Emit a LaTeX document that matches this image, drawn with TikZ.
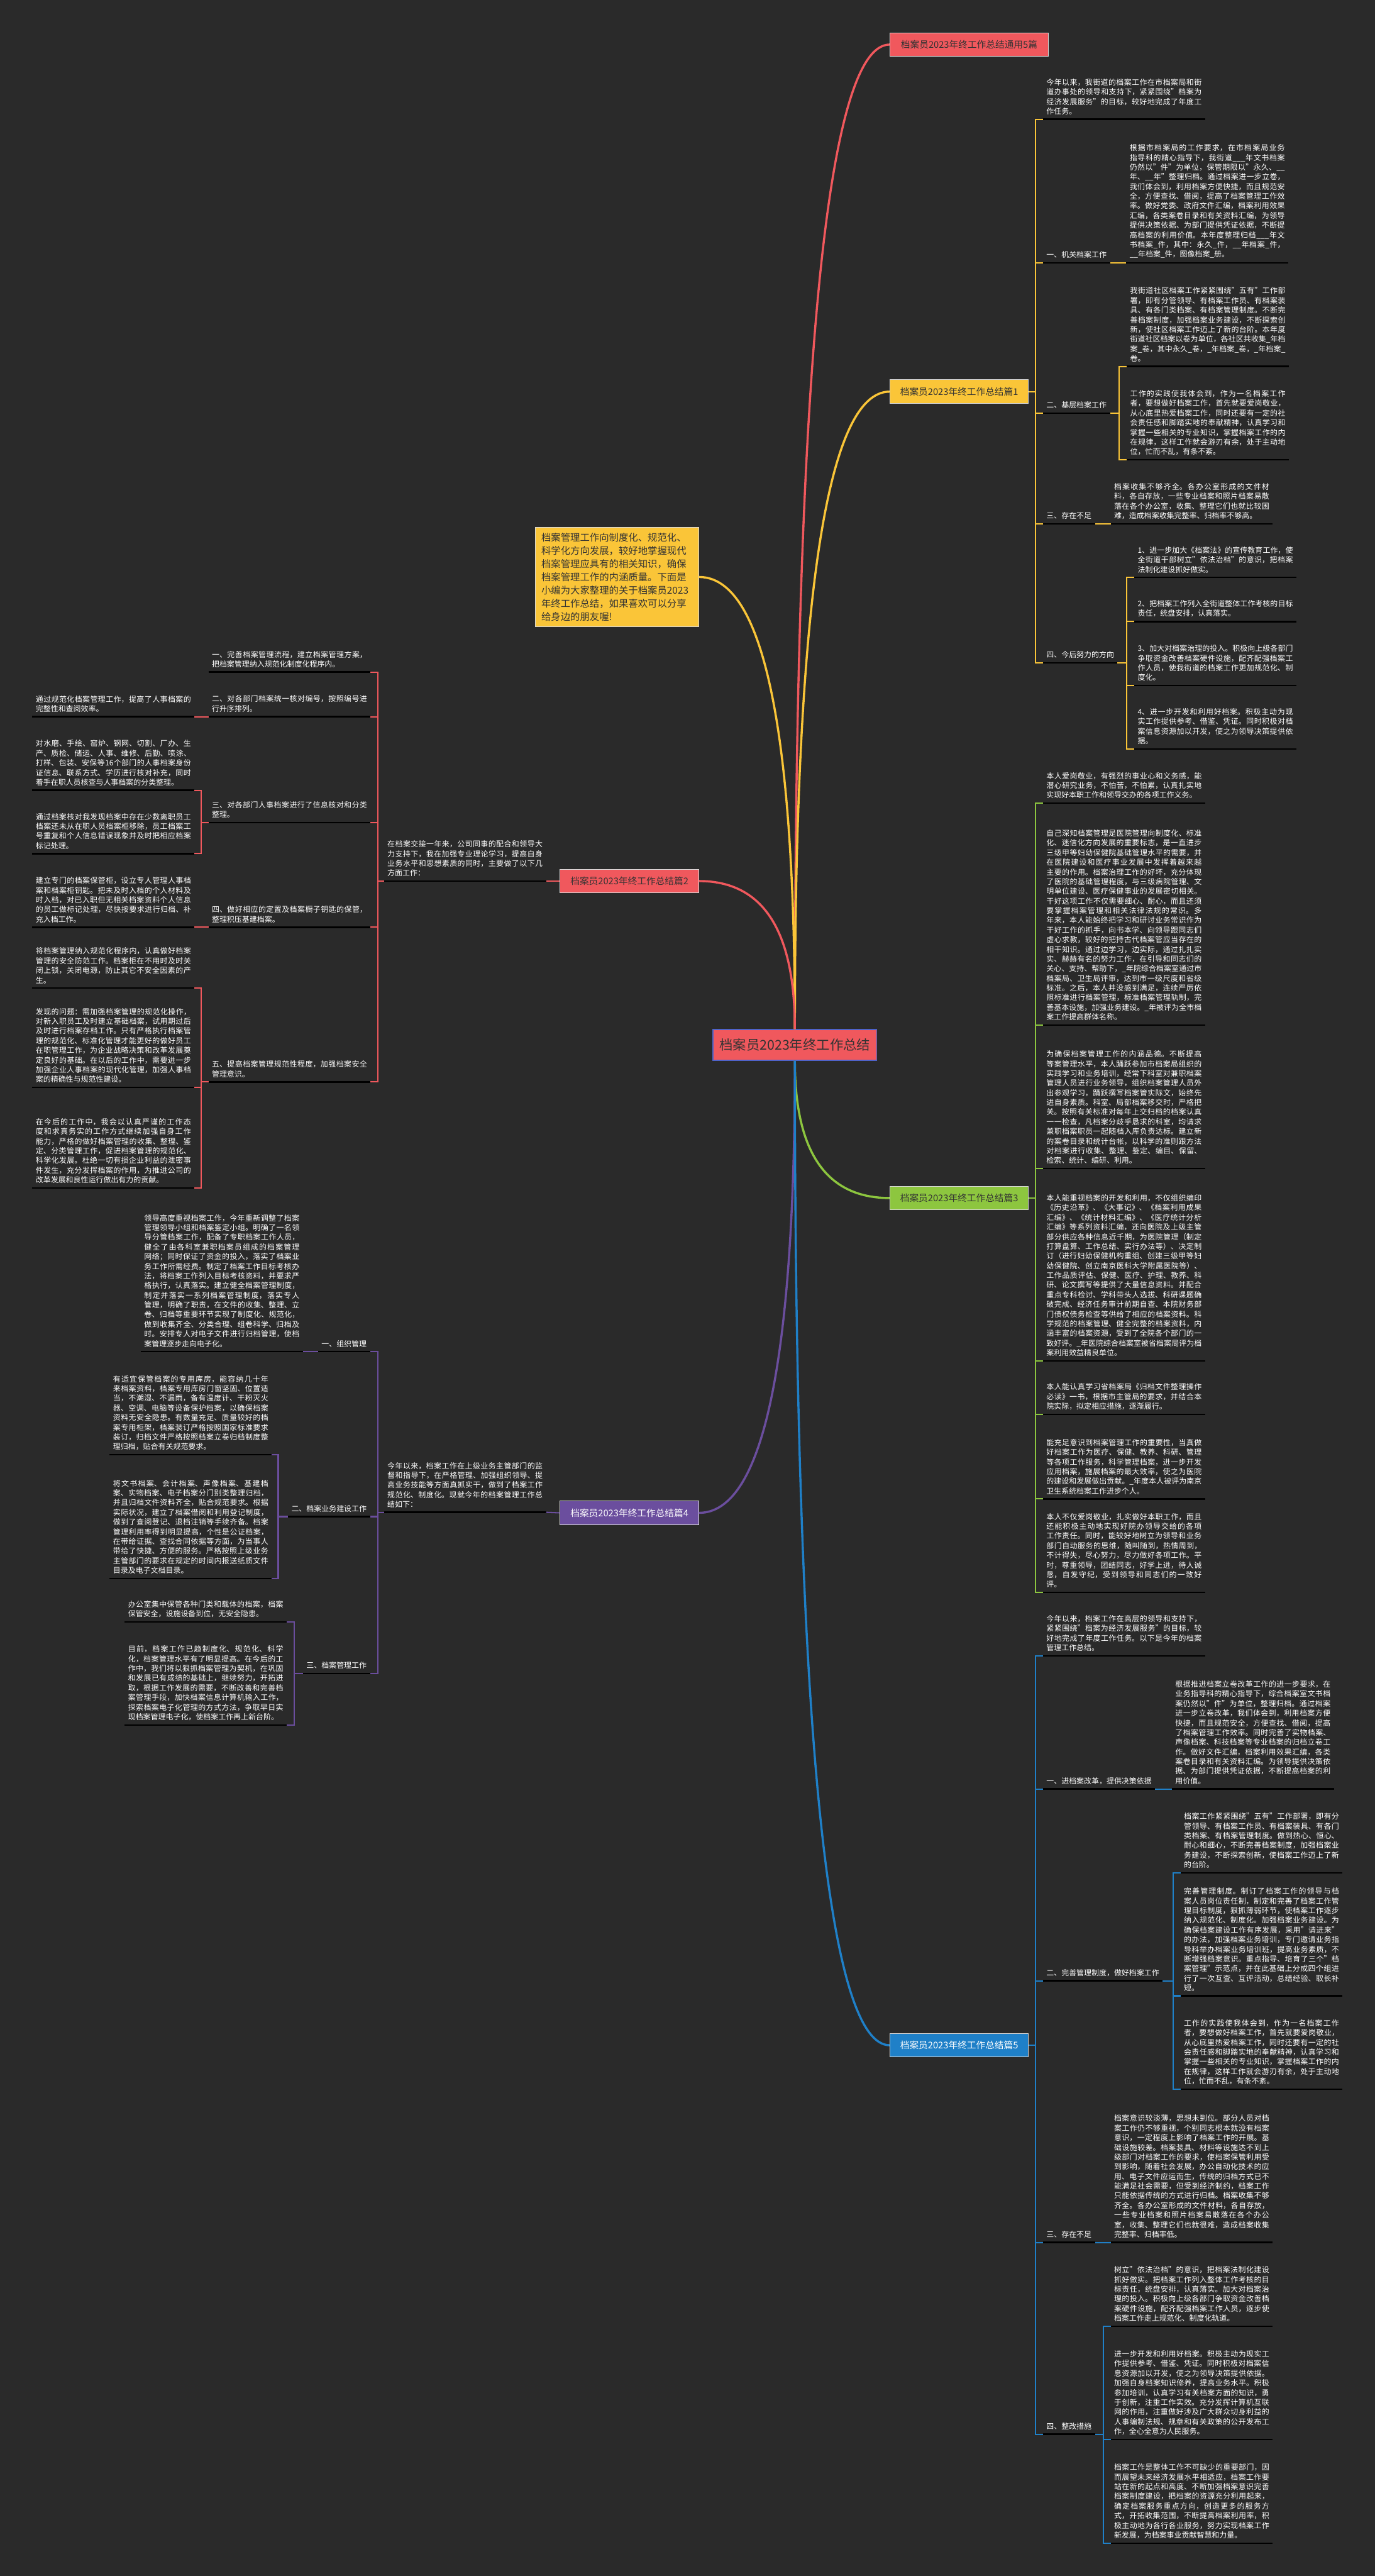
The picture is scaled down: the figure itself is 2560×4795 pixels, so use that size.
\documentclass[tikz,border=0pt]{standalone}
\usepackage{fontspec}
\setmainfont{Noto Sans CJK SC}
\XeTeXlinebreaklocale "zh"
\XeTeXlinebreakskip=0pt plus 1pt
\usetikzlibrary{calc}
\definecolor{bgc}{HTML}{2A2A2A}
\definecolor{cred}{HTML}{F0585D}
\definecolor{cyel}{HTML}{FAC538}
\definecolor{cgrn}{HTML}{8DC63F}
\definecolor{cpur}{HTML}{6B4E9E}
\definecolor{cblu}{HTML}{1F80C8}
\definecolor{ink}{HTML}{333333}
\definecolor{rim}{HTML}{D9D9D9}
\definecolor{cring}{HTML}{4F63C9}
\tikzset{
  leaf/.style={text=white, font=\fontsize{7pt}{9pt}\selectfont, text width=144.5pt, align=justify, inner xsep=3pt, inner ysep=4pt},
  head/.style={text=white, font=\fontsize{7pt}{9pt}\selectfont, inner xsep=3pt, inner ysep=4pt},
  title/.style={draw=rim, line width=0.6pt, text=ink, font=\fontsize{8.6pt}{10pt}\selectfont, minimum width=129pt, minimum height=22pt, inner sep=2pt},
  uline/.style={draw=black, line width=1.4pt},
  link/.style={line width=1.2pt},
  limb/.style={line width=2pt, to path={.. controls ($(\tikztostart)!.667!(\tikztostart |- \tikztotarget)$) and ($(\tikztotarget)!.667!(\tikztostart |- \tikztotarget)$) .. (\tikztotarget)}}
}
\begin{document}
\begin{tikzpicture}[x=0.5pt, y=-0.5pt]
\fill[bgc] (0,0) rectangle (2560,4795);

% main nodes
\node[fill=cred, draw=cring, line width=1pt, text=ink, font=\fontsize{12.5pt}{14pt}\selectfont, minimum width=152.5pt, minimum height=28.5pt] (c) at (1480,1945) {档案员2023年终工作总结};
\node[fill=cyel, draw=rim, line width=0.6pt, text=ink, font=\fontsize{9pt}{12.3pt}\selectfont, text width=141pt, align=left, inner xsep=5.5pt, inner ysep=5pt] (s) at (1149,1074) {档案管理工作向制度化、规范化、\\科学化方向发展，较好地掌握现代\\档案管理应具有的相关知识，确保\\档案管理工作的内涵质量。下面是\\小编为大家整理的关于档案员2023\\年终工作总结，如果喜欢可以分享\\给身边的朋友喔!};
\node[title, fill=cred, minimum width=147.5pt] (t0) at (1804.5,83) {档案员2023年终工作总结通用5篇};
\node[title, fill=cyel] (b1) at (1786,729) {档案员2023年终工作总结篇1};
\node[title, fill=cred] (b2) at (1172,1640) {档案员2023年终工作总结篇2};
\node[title, fill=cgrn] (b3) at (1786,2230) {档案员2023年终工作总结篇3};
\node[title, fill=cpur, text=white] (b4) at (1172,2816) {档案员2023年终工作总结篇4};
\node[title, fill=cblu, text=white] (b5) at (1786,3807) {档案员2023年终工作总结篇5};

\draw[limb, cred] (c.north) to (t0.west);
\draw[limb, cyel] (c.north) to (b1.west);
\draw[limb, cyel] (c.north) to (s.east);
\draw[limb, cred] (c.north) to (b2.east);
\draw[limb, cgrn] (c.south) to (b3.west);
\draw[limb, cpur] (c.south) to (b4.east);
\draw[limb, cblu] (c.south) to (b5.west);

% branch 1
\coordinate (k1) at (1928,0);
\coordinate (k12) at (2084,0);
\coordinate (k14) at (2098,0);
\node[leaf, anchor=south west] (b1i) at (1942,222) {今年以来，我街道的档案工作在市档案局和街道办事处的领导和支持下，紧紧围绕"档案为经济发展服务"的目标，较好地完成了年度工作任务。};
\node[head, anchor=south west] (b1p1) at (1942,489) {一、机关档案工作};
\node[leaf, anchor=south west] (b1p1a) at (2097,489) {根据市档案局的工作要求，在市档案局业务指导科的精心指导下，我街道\_\_\_年文书档案仍然以"件"为单位，保管期限以"永久、\_\_年、\_\_年"整理归档。通过档案进一步立卷，我们体会到，利用档案方便快捷，而且规范安全，方便查找、借阅，提高了档案管理工作效率。做好党委、政府文件汇编，档案利用效果汇编，各类案卷目录和有关资料汇编，为领导提供决策依据、为部门提供凭证依据，不断提高档案的利用价值。本年度整理归档\_\_\_年文书档案\_件，其中：永久\_件，\_\_年档案\_件，\_\_年档案\_件，图像档案\_册。};
\node[head, anchor=south west] (b1p2) at (1942,769) {二、基层档案工作};
\node[leaf, anchor=south west] (b1p2a) at (2098,682) {我街道社区档案工作紧紧围绕"五有"工作部署，即有分管领导、有档案工作员、有档案装具、有各门类档案、有档案管理制度。不断完善档案制度，加强档案业务建设，不断探索创新，使社区档案工作迈上了新的台阶。本年度街道社区档案以卷为单位，各社区共收集\_年档案\_卷，其中永久\_卷，\_年档案\_卷，\_年档案\_卷。};
\node[leaf, anchor=south west] (b1p2b) at (2098,856) {工作的实践使我体会到，作为一名档案工作者，要想做好档案工作，首先就要爱岗敬业，从心底里热爱档案工作，同时还要有一定的社会责任感和脚踏实地的奉献精神，认真学习和掌握一些相关的专业知识，掌握档案工作的内在规律，这样工作就会游刃有余，处于主动地位，忙而不乱，有条不紊。};
\node[head, anchor=south west] (b1p3) at (1942,975) {三、存在不足};
\node[leaf, anchor=south west] (b1p3a) at (2068,975) {档案收集不够齐全。各办公室形成的文件材料，各自存放，一些专业档案和照片档案易散落在各个办公室，收集、整理它们也就比较困难，造成档案收集完整率、归档率不够高。};
\node[head, anchor=south west] (b1p4) at (1942,1234) {四、今后努力的方向};
\node[leaf, anchor=south west] (b1p4a) at (2112,1075) {1、进一步加大《档案法》的宣传教育工作，使全街道干部树立"依法治档"的意识，把档案法制化建设抓好做实。};
\node[leaf, anchor=south west] (b1p4b) at (2112,1157) {2、把档案工作列入全街道整体工作考核的目标责任，统盘安排，认真落实。};
\node[leaf, anchor=south west] (b1p4c) at (2112,1276) {3、加大对档案治理的投入。积极向上级各部门争取资金改善档案硬件设施，配齐配强档案工作人员，使我街道的档案工作更加规范化、制度化。};
\node[leaf, anchor=south west] (b1p4d) at (2112,1394) {4、进一步开发和利用好档案。积极主动为现实工作提供参考、借鉴、凭证。同时积极对档案信息资源加以开发，使之为领导决策提供依据。};

% branch 3
\coordinate (k3) at (1928,0);
\node[leaf, anchor=south west] (b3a) at (1942,1495) {本人爱岗敬业，有强烈的事业心和义务感，能潜心研究业务，不怕苦，不怕累，认真扎实地实现好本职工作和领导交办的各项工作义务。};
\node[leaf, anchor=south west] (b3b) at (1942,1908) {自己深知档案管理是医院管理向制度化、标准化、迷信化方向发展的重要标志，是一直进步三级甲等妇幼保健院基础管理水平的需要，并在医院建设和医疗事业发展中发挥着越来越主要的作用。档案治理工作的好坏，充分体现了医院的基础管理程度，与三级病院管理、文明单位建设、医疗保健事业的发展密切相关。干好这项工作不仅需要细心、耐心，而且还须要掌握档案管理和相关法律法规的常识。多年来，本人能始终把学习和研讨业务常识作为干好工作的抓手，向书本学、向领导跟同志们虚心求教，较好的把持古代档案管应当存在的相干知识。通过边学习，边实际，通过扎扎实实、赫赫有名的努力工作，在引导和同志们的关心、支持、帮助下，\_年院综合档案室通过市档案局、卫生局评审，达到市一级尺度和省级标准。之后，本人并没感到满足，连续严厉依照标准进行档案管理，标准档案管理轨制，完善基本设施，加强业务建设。\_年被评为全市档案工作提高群体名称。};
\node[leaf, anchor=south west] (b3c) at (1942,2175) {为确保档案管理工作的内涵品德。不断提高等案管理水平，本人踊跃参加市档案局组织的实践学习和业务培训，经常下科室对兼职档案管理人员进行业务领导，组织档案管理人员外出参观学习，踊跃撰写档案管实际文，始终先进自身素质。科室、局部档案移交时，严格把关。按照有关标准对每年上交归档的档案认真一一检查，凡档案分歧乎恳求的科室，均请求兼职档案职员一起随档入库负责达标。建立新的案卷目录和统计台帐，以科学的准则跟方法对档案进行收集、整理、鉴定、编目、保留、检索、统计、编研、利用。};
\node[leaf, anchor=south west] (b3d) at (1942,2533) {本人能重视档案的开发和利用，不仅组织编印《历史沿革》、《大事记》、《档案利用成果汇编》、《统计材料汇编》、《医疗统计分析汇编》等系列资料汇编，还向医院及上级主管部分供应各种信息近千期，为医院管理（制定打算盘算、工作总结、实行办法等）、决定制订（进行妇幼保健机构重组、创建三级甲等妇幼保健院、创立南京医科大学附属医院等）、工作品质评估、保健、医疗、护理、教养、科研、论文撰写等提供了大量信息资料。并配合重点专科检讨、学科带头人选拔、科研课题确破完成、经济任务审计前期自查、本院财务部门债权债务检查等供给了相应的档案资料。科学规范的档案管理、健全完整的档案资料，内涵丰富的档案资源，受到了全院各个部门的一致好评。\_年医院综合档案室被省档案局评为档案利用效益精良单位。};
\node[leaf, anchor=south west] (b3e) at (1942,2633) {本人能认真学习省档案局《归档文件整理操作必读》一书，根据市主管局的要求，并结合本院实际，拟定相应措施，逐渐履行。};
\node[leaf, anchor=south west] (b3f) at (1942,2790) {能充足意识到档案管理工作的重要性，当真做好档案工作为医疗、保健、教养、科研、管理等各项工作服务，科学管理档案，进一步开发应用档案，施展档案的最大效率，使之为医院的建设和发展做出贡献。\_年度本人被评为南京卫生系统档案工作进步个人。};
\node[leaf, anchor=south west] (b3g) at (1942,2964) {本人不仅爱岗敬业，扎实做好本职工作，而且还能积极主动地实现好院办领导交给的各项工作责任。同时，能较好地树立为领导和业务部门自动服务的思维，随叫随到，热情周到，不计得失，尽心努力，尽力做好各项工作。平时，尊重领导，团结同志，好学上进，待人诚恳，自发守纪，受到领导和同志们的一致好评。};

% branch 5
\coordinate (k5) at (1928,0);
\coordinate (k52) at (2184,0);
\coordinate (k54) at (2055,0);
\node[leaf, anchor=south west] (b5i) at (1942,3082) {今年以来，档案工作在高层的领导和支持下，紧紧围绕"档案为经济发展服务"的目标，较好地完成了年度工作任务。以下是今年的档案管理工作总结。};
\node[head, anchor=south west] (b5p1) at (1942,3330) {一、进档案改革，提供决策依据};
\node[leaf, anchor=south west] (b5p1a) at (2182,3330) {根据推进档案立卷改革工作的进一步要求，在业务指导科的精心指导下，综合档案室文书档案仍然以"件"为单位，整理归档。通过档案进一步立卷改革，我们体会到，利用档案方便快捷，而且规范安全，方便查找、借阅，提高了档案管理工作效率。同时完善了实物档案、声像档案、科技档案等专业档案的归档立卷工作。做好文件汇编，档案利用效果汇编，各类案卷目录和有关资料汇编。为领导提供决策依据、为部门提供凭证依据，不断提高档案的利用价值。};
\node[head, anchor=south west] (b5p2) at (1942,3687) {二、完善管理制度，做好档案工作};
\node[leaf, anchor=south west] (b5p2a) at (2198,3486) {档案工作紧紧围绕"五有"工作部署，即有分管领导、有档案工作员、有档案装具、有各门类档案、有档案管理制度。做到热心、恒心、耐心和细心，不断完善档案制度，加强档案业务建设，不断探索创新，使档案工作迈上了新的台阶。};
\node[leaf, anchor=south west] (b5p2b) at (2198,3715) {完善管理制度。制订了档案工作的领导与档案人员岗位责任制，制定和完善了档案工作管理目标制度，狠抓薄弱环节，使档案工作逐步纳入规范化、制度化。加强档案业务建设。为确保档案建设工作有序发展，采用"请进来"的办法，加强档案业务培训，专门邀请业务指导科举办档案业务培训班，提高业务素质，不断增强档案意识。重点指导、培育了三个"档案管理"示范点，并在此基础上分成四个组进行了一次互查、互评活动，总结经验、取长补短。};
\node[leaf, anchor=south west] (b5p2c) at (2198,3889) {工作的实践使我体会到，作为一名档案工作者，要想做好档案工作，首先就要爱岗敬业，从心底里热爱档案工作，同时还要有一定的社会责任感和脚踏实地的奉献精神，认真学习和掌握一些相关的专业知识，掌握档案工作的内在规律，这样工作就会游刃有余，处于主动地位，忙而不乱，有条不紊。};
\node[head, anchor=south west] (b5p3) at (1942,4174) {三、存在不足};
\node[leaf, anchor=south west] (b5p3a) at (2068,4174) {档案意识较淡薄，思想未到位。部分人员对档案工作仍不够重视，个别同志根本就没有档案意识，一定程度上影响了档案工作的开展。基础设施较差。档案装具、材料等设施达不到上级部门对档案工作的要求，使档案保管利用受到影响，随着社会发展，办公自动化技术的应用、电子文件应运而生，传统的归档方式已不能满足社会需要，但受到经济制约，档案工作只能依据传统的方式进行归档。档案收集不够齐全。各办公室形成的文件材料，各自存放，一些专业档案和照片档案易散落在各个办公室，收集、整理它们也就很难，造成档案收集完整率、归档率低。};
\node[head, anchor=south west] (b5p4) at (1942,4531) {四、整改措施};
\node[leaf, anchor=south west] (b5p4a) at (2068,4330) {树立"依法治档"的意识，把档案法制化建设抓好做实。把档案工作列入整体工作考核的目标责任，统盘安排，认真落实。加大对档案治理的投入。积极向上级各部门争取资金改善档案硬件设施，配齐配强档案工作人员，逐步使档案工作走上规范化、制度化轨道。};
\node[leaf, anchor=south west] (b5p4b) at (2068,4541) {进一步开发和利用好档案。积极主动为现实工作提供参考、借鉴、凭证。同时积极对档案信息资源加以开发，使之为领导决策提供依据。加强自身档案知识修养，提高业务水平。积极参加培训，认真学习有关档案方面的知识，勇于创新，注重工作实效。充分发挥计算机互联网的作用，注重做好涉及广大群众切身利益的人事编制法规、规章和有关政策的公开发布工作，全心全意为人民服务。};
\node[leaf, anchor=south west] (b5p4c) at (2068,4734) {档案工作是整体工作不可缺少的重要部门，因而展望未来经济发展水平相适应，档案工作要站在新的起点和高度、不断加强档案意识完善档案制度建设，把档案的资源充分利用起来，确定档案服务重点方向，创造更多的服务方式，开拓收集范围，不断提高档案利用率，积极主动地为各行各业服务，努力实现档案工作新发展，为档案事业贡献智慧和力量。};

% branch 2
\coordinate (k2) at (704,0);
\coordinate (k23) at (375,0);
\coordinate (k25) at (375,0);
\node[leaf, anchor=south west] (b2i) at (715,1640) {在档案交接一年来，公司同事的配合和领导大力支持下，我在加强专业理论学习，提高自身业务水平和思想素质的同时，主要做了以下几方面工作：};
\node[leaf, anchor=south east] (b2p1) at (690,1251) {一、完善档案管理流程，建立档案管理方案，把档案管理纳入规范化制度化程序内。};
\node[leaf, anchor=south east] (b2p2) at (690,1334) {二、对各部门档案统一核对编号，按照编号进行升序排列。};
\node[leaf, anchor=south east] (b2p2a) at (362,1334) {通过规范化档案管理工作，提高了人事档案的完整性和查阅效率。};
\node[leaf, anchor=south east] (b2p3) at (690,1531) {三、对各部门人事档案进行了信息核对和分类整理。};
\node[leaf, anchor=south east] (b2p3a) at (362,1471) {对水磨、手绘、窑炉、钢网、切割、厂办、生产、质检、储运、人事、维修、后勤、喷涂、打样、包装、安保等16个部门的人事档案身份证信息、联系方式、学历进行核对补充，同时着手在职人员核查与人事档案的分类整理。};
\node[leaf, anchor=south east] (b2p3b) at (362,1589) {通过档案核对我发现档案中存在少数离职员工档案还未从在职人员档案柜移除，员工档案工号重复和个人信息错误现象并及时把相应档案标记处理。};
\node[leaf, anchor=south east] (b2p4) at (690,1726) {四、做好相应的定置及档案橱子钥匙的保管，整理积压基建档案。};
\node[leaf, anchor=south east] (b2p4a) at (362,1726) {建立专门的档案保管柜，设立专人管理人事档案和档案柜钥匙。把未及时入档的个人材料及时入档，对已入职但无相关档案资料个人信息的员工做标记处理，尽快按要求进行归档、补充入档工作。};
\node[leaf, anchor=south east] (b2p5) at (690,2014) {五、提高档案管理规范性程度，加强档案安全管理意识。};
\node[leaf, anchor=south east] (b2p5a) at (362,1839) {将档案管理纳入规范化程序内，认真做好档案管理的安全防范工作。档案柜在不用时及时关闭上锁，关闭电源，防止其它不安全因素的产生。};
\node[leaf, anchor=south east] (b2p5b) at (362,2024) {发现的问题：需加强档案管理的规范化操作，对新入职员工及时建立基础档案，试用期过后及时进行档案存档工作。只有严格执行档案管理的规范化、标准化管理才能更好的做好员工在职管理工作，为企业战略决策和改革发展奠定良好的基础。在以后的工作中，需要进一步加强企业人事档案的现代化管理，加强人事档案的精确性与规范性建设。};
\node[leaf, anchor=south east] (b2p5c) at (362,2211) {在今后的工作中，我会以认真严谨的工作态度和求真务实的工作方式继续加强自身工作能力，严格的做好档案管理的收集、整理、鉴定、分类管理工作，促进档案管理的规范化、科学化发展。杜绝一切有损企业利益的泄密事件发生，充分发挥档案的作用，为推进公司的改革发展和良性运行做出有力的贡献。};

% branch 4
\coordinate (k4) at (704,0);
\coordinate (k42) at (518,0);
\coordinate (k43) at (548,0);
\node[leaf, anchor=south west] (b4i) at (715,2815) {今年以来，档案工作在上级业务主管部门的监督和指导下，在严格管理、加强组织领导、提高业务技能等方面真抓实干，做到了档案工作规范化、制度化。现就今年的档案管理工作总结如下：};
\node[head, anchor=south east] (b4p1) at (689,2516) {一、组织管理};
\node[leaf, anchor=south east] (b4p1a) at (564,2516) {领导高度重视档案工作，今年重新调整了档案管理领导小组和档案鉴定小组。明确了一名领导分管档案工作，配备了专职档案工作人员，健全了由各科室兼职档案员组成的档案管理网络；同时保证了资金的投入，落实了档案业务工作所需经费。制定了档案工作目标考核办法，将档案工作列入目标考核资料，并要求严格执行，认真落实。建立健全档案管理制度，制定并落实一系列档案管理制度，落实专人管理，明确了职责，在文件的收集、整理、立卷、归档等重要环节实现了制度化、规范化，做到收集齐全、分类合理、组卷科学、归档及时。安排专人对电子文件进行归档管理，使档案管理逐步走向电子化。};
\node[head, anchor=south east] (b4p2) at (689,2823) {二、档案业务建设工作};
\node[leaf, anchor=south east] (b4p2a) at (506,2708) {有适宜保管档案的专用库房，能容纳几十年来档案资料，档案专用库房门窗坚固、位置适当，不潮湿、不漏雨，备有温度计、干粉灭火器、空调、电脑等设备保护档案，以确保档案资料无安全隐患。有数量充足、质量较好的档案专用柜架，档案装订严格按照国家标准要求装订，归档文件严格按照档案立卷归档制度整理归档，贴合有关规范要求。};
\node[leaf, anchor=south east] (b4p2b) at (506,2938) {将文书档案、会计档案、声像档案、基建档案、实物档案、电子档案分门别类整理归档，并且归档文件资料齐全，贴合规范要求。根据实际状况，建立了档案借阅和利用登记制度，做到了查阅登记、退档注销等手续齐备。档案管理利用率得到明显提高，个性是公证档案，在带给证据、查找合同依据等方面，为当事人带给了快捷、方便的服务。严格按照上级业务主管部门的要求在规定的时间内报送纸质文件目录及电子文档目录。};
\node[head, anchor=south east] (b4p3) at (689,3115) {三、档案管理工作};
\node[leaf, anchor=south east] (b4p3a) at (534,3019) {办公室集中保管各种门类和载体的档案，档案保管安全，设施设备到位，无安全隐患。};
\node[leaf, anchor=south east] (b4p3b) at (534,3211) {目前，档案工作已趋制度化、规范化、科学化，档案管理水平有了明显提高。在今后的工作中，我们将以狠抓档案管理为契机，在巩固和发展已有成绩的基础上，继续努力，开拓进取，根据工作发展的需要，不断改善和完善档案管理手段，加快档案信息计算机输入工作，探索档案电子化管理的方式方法，争取早日实现档案管理电子化，使档案工作再上新台阶。};

% underlines
\foreach \n in {b1i,b1p1,b1p1a,b1p2,b1p2a,b1p2b,b1p3,b1p3a,b1p4,b1p4a,b1p4b,b1p4c,b1p4d,
  b3a,b3b,b3c,b3d,b3e,b3f,b3g,
  b5i,b5p1,b5p1a,b5p2,b5p2a,b5p2b,b5p2c,b5p3,b5p3a,b5p4,b5p4a,b5p4b,b5p4c,
  b2i,b2p1,b2p2,b2p2a,b2p3,b2p3a,b2p3b,b2p4,b2p4a,b2p5,b2p5a,b2p5b,b2p5c,
  b4i,b4p1,b4p1a,b4p2,b4p2a,b4p2b,b4p3,b4p3a,b4p3b}
  \draw[uline] (\n.south west) -- (\n.south east);

% branch 1 links
\draw[link, cyel] (b1.east) -- (b1.east -| k1);
\draw[link, cyel] (b1i.south west) -| (k1 |- b1p4.south west) -- (b1p4.south west);
\foreach \n in {b1p1,b1p2,b1p3} \draw[link, cyel] (\n.south west) -- (\n.south west -| k1);
\draw[link, cyel] (b1p1.south east) -- (b1p1a.south west);
\draw[link, cyel] (b1p2.south east) -- (b1p2.south east -| k12);
\draw[link, cyel] (b1p2a.south west) -| (k12 |- b1p2b.south west) -- (b1p2b.south west);
\draw[link, cyel] (b1p3.south east) -- (b1p3a.south west);
\draw[link, cyel] (b1p4.south east) -- (b1p4.south east -| k14);
\draw[link, cyel] (b1p4a.south west) -| (k14 |- b1p4d.south west) -- (b1p4d.south west);
\foreach \n in {b1p4b,b1p4c} \draw[link, cyel] (\n.south west) -- (\n.south west -| k14);

% branch 3 links
\draw[link, cgrn] (b3.east) -- (b3.east -| k3);
\draw[link, cgrn] (b3a.south west) -| (k3 |- b3g.south west) -- (b3g.south west);
\foreach \n in {b3b,b3c,b3d,b3e,b3f} \draw[link, cgrn] (\n.south west) -- (\n.south west -| k3);

% branch 5 links
\draw[link, cblu] (b5.east) -- (b5.east -| k5);
\draw[link, cblu] (b5i.south west) -| (k5 |- b5p4.south west) -- (b5p4.south west);
\foreach \n in {b5p1,b5p2,b5p3} \draw[link, cblu] (\n.south west) -- (\n.south west -| k5);
\draw[link, cblu] (b5p1.south east) -- (b5p1a.south west);
\draw[link, cblu] (b5p2.south east) -- (b5p2.south east -| k52);
\draw[link, cblu] (b5p2a.south west) -| (k52 |- b5p2c.south west) -- (b5p2c.south west);
\draw[link, cblu] (b5p2b.south west) -- (b5p2b.south west -| k52);
\draw[link, cblu] (b5p3.south east) -- (b5p3a.south west);
\draw[link, cblu] (b5p4.south east) -- (b5p4.south east -| k54);
\draw[link, cblu] (b5p4a.south west) -| (k54 |- b5p4c.south west) -- (b5p4c.south west);
\draw[link, cblu] (b5p4b.south west) -- (b5p4b.south west -| k54);

% branch 2 links
\draw[link, cred] (b2.west) -- (b2i.south east);
\draw[link, cred] (b2i.south west) -- (b2i.south west -| k2);
\draw[link, cred] (b2p1.south east) -| (k2 |- b2p5.south east) -- (b2p5.south east);
\foreach \n in {b2p2,b2p3,b2p4} \draw[link, cred] (\n.south east) -- (\n.south east -| k2);
\draw[link, cred] (b2p2.south west) -- (b2p2a.south east);
\draw[link, cred] (b2p3.south west) -- (b2p3.south west -| k23);
\draw[link, cred] (b2p3a.south east) -| (k23 |- b2p3b.south east) -- (b2p3b.south east);
\draw[link, cred] (b2p4.south west) -- (b2p4a.south east);
\draw[link, cred] (b2p5.south west) -- (b2p5.south west -| k25);
\draw[link, cred] (b2p5a.south east) -| (k25 |- b2p5c.south east) -- (b2p5c.south east);
\draw[link, cred] (b2p5b.south east) -- (b2p5b.south east -| k25);

% branch 4 links
\draw[link, cpur] (b4.west) -- (b4i.south east);
\draw[link, cpur] (b4i.south west) -- (b4i.south west -| k4);
\draw[link, cpur] (b4p1.south east) -| (k4 |- b4p3.south east) -- (b4p3.south east);
\draw[link, cpur] (b4p2.south east) -- (b4p2.south east -| k4);
\draw[link, cpur] (b4p1.south west) -- (b4p1a.south east);
\draw[link, cpur] (b4p2.south west) -- (b4p2.south west -| k42);
\draw[link, cpur] (b4p2a.south east) -| (k42 |- b4p2b.south east) -- (b4p2b.south east);
\draw[link, cpur] (b4p3.south west) -- (b4p3.south west -| k43);
\draw[link, cpur] (b4p3a.south east) -| (k43 |- b4p3b.south east) -- (b4p3b.south east);
\end{tikzpicture}
\end{document}
